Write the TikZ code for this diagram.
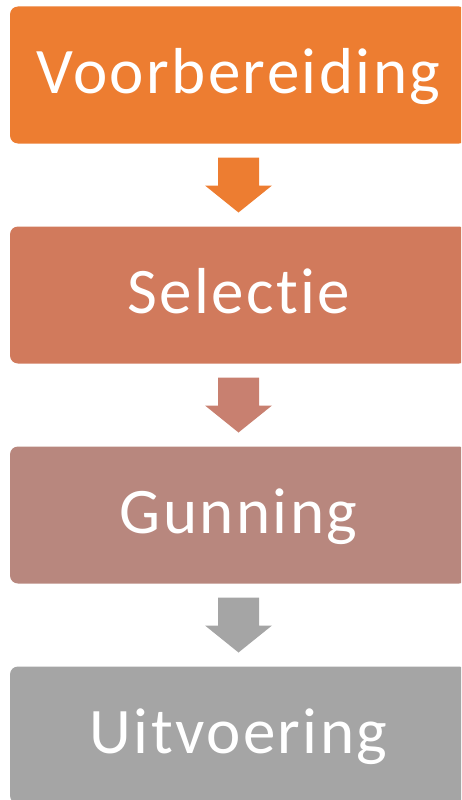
\documentclass[tikz,border=0pt]{standalone}
\usepackage{fontspec}
\setmainfont[Ligatures={NoCommon,NoContextual}, LetterSpace=3.7]{Carlito}
\usetikzlibrary{calc}
\definecolor{cone}{HTML}{ED7D31}
\definecolor{ctwo}{HTML}{D17A5C}
\definecolor{cthree}{HTML}{B8877E}
\definecolor{cfour}{HTML}{A5A5A5}
\definecolor{aone}{HTML}{ED7D31}
\definecolor{atwo}{HTML}{C88070}
\definecolor{athree}{HTML}{A5A5A5}
\tikzset{
  stepbox/.style={rounded corners=8pt, minimum width=457pt, minimum height=137pt,
    inner sep=0pt, text height=36pt, text depth=0pt, text=white,
    font=\fontsize{65}{78}\selectfont},
  darrow/.pic={\fill[#1] (-20.5,-27.5) -- (20.5,-27.5) -- (20.5,0.5) -- (33.5,0.5)
    -- (0,27.5) -- (-33.5,0.5) -- (-20.5,0.5) -- cycle;}
}
\begin{document}
\begin{tikzpicture}[x=1pt,y=-1pt]
\useasboundingbox (0,0) rectangle (461,800);
\clip (0,0) rectangle (461,800);
\node[stepbox, fill=cone]   (b1) at (238.5,75)  {Voorbereiding};
\node[stepbox, fill=ctwo]   (b2) at (238.5,295) {Selectie};
\node[stepbox, fill=cthree] (b3) at (238.5,515) {Gunning};
\node[stepbox, fill=cfour]  (b4) at (238.5,735) {Uitvoering};
\pic at ($(b1.south)!0.5!(b2.north)$) {darrow=aone};
\pic at ($(b2.south)!0.5!(b3.north)$) {darrow=atwo};
\pic at ($(b3.south)!0.5!(b4.north)$) {darrow=athree};
\end{tikzpicture}
\end{document}
